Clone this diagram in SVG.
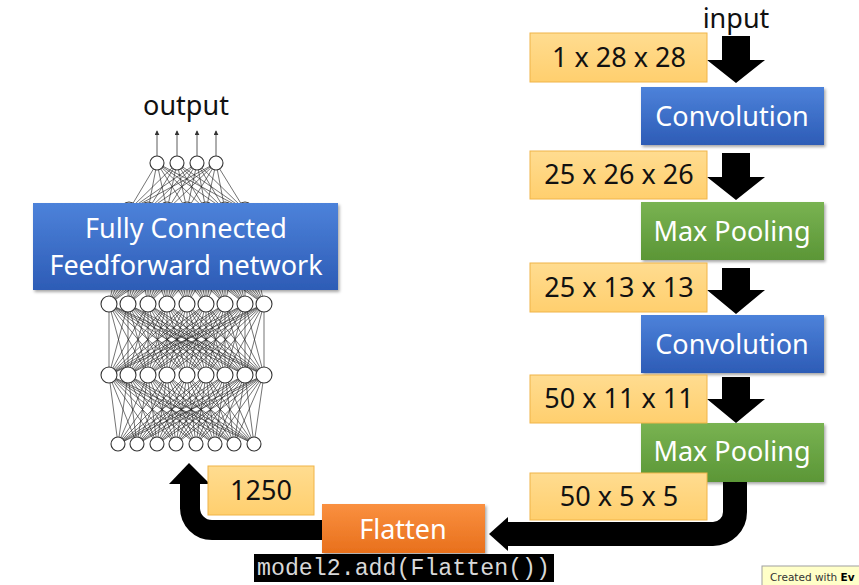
<svg xmlns="http://www.w3.org/2000/svg" width="859" height="585" viewBox="0 0 859 585">
<defs>
<linearGradient id="gBlue" x1="0" y1="0" x2="0" y2="1"><stop offset="0" stop-color="#4d82da"/><stop offset="1" stop-color="#2d5cb6"/></linearGradient>
<linearGradient id="gGreen" x1="0" y1="0" x2="0" y2="1"><stop offset="0" stop-color="#79b352"/><stop offset="1" stop-color="#5b9636"/></linearGradient>
<linearGradient id="gOrange" x1="0" y1="0" x2="0" y2="1"><stop offset="0" stop-color="#fa9040"/><stop offset="1" stop-color="#e8701c"/></linearGradient>
<linearGradient id="gYellow" x1="0" y1="0" x2="0" y2="1"><stop offset="0" stop-color="#ffdc90"/><stop offset="1" stop-color="#ffcf6e"/></linearGradient>
<filter id="sh" x="-10%" y="-10%" width="120%" height="130%"><feDropShadow dx="1.5" dy="2" stdDeviation="1.5" flood-color="#000" flood-opacity="0.35"/></filter>
<marker id="mUp" viewBox="0 0 6 6" refX="5" refY="3" markerWidth="5" markerHeight="5" markerUnits="userSpaceOnUse" orient="auto"><path d="M0 0L6 3L0 6z" fill="#333"/></marker>
<style>
.t{font-family:"Noto Sans","Open Sans",sans-serif;font-size:27px;text-anchor:middle}
.w{fill:#fff}
.k{fill:#111}
.lab{fill:url(#gYellow);stroke:#f0b448;stroke-width:1}
.blue{fill:url(#gBlue);filter:url(#sh)}
.green{fill:url(#gGreen);filter:url(#sh)}
.orange{fill:url(#gOrange);filter:url(#sh)}
.net{fill:none;stroke:#222;stroke-width:0.7;stroke-opacity:0.9}
.nd{fill:#fff;stroke:#333;stroke-width:1.1}
.blk{fill:#000}
</style>
</defs>
<rect width="859" height="585" fill="#fff"/>

<g id="network">
<path class="net" d="M157 163L129 210M157 163L148 210M157 163L167 210M157 163L187 210M157 163L206 210M157 163L225 210M157 163L245 210M177 163L129 210M177 163L148 210M177 163L167 210M177 163L187 210M177 163L206 210M177 163L225 210M177 163L245 210M197 163L129 210M197 163L148 210M197 163L167 210M197 163L187 210M197 163L206 210M197 163L225 210M197 163L245 210M216 163L129 210M216 163L148 210M216 163L167 210M216 163L187 210M216 163L206 210M216 163L225 210M216 163L245 210"/>
<path class="net" d="M129 210L109 304M129 210L128 304M129 210L148 304M129 210L167 304M129 210L187 304M129 210L206 304M129 210L225 304M129 210L245 304M129 210L264 304M148 210L109 304M148 210L128 304M148 210L148 304M148 210L167 304M148 210L187 304M148 210L206 304M148 210L225 304M148 210L245 304M148 210L264 304M167 210L109 304M167 210L128 304M167 210L148 304M167 210L167 304M167 210L187 304M167 210L206 304M167 210L225 304M167 210L245 304M167 210L264 304M187 210L109 304M187 210L128 304M187 210L148 304M187 210L167 304M187 210L187 304M187 210L206 304M187 210L225 304M187 210L245 304M187 210L264 304M206 210L109 304M206 210L128 304M206 210L148 304M206 210L167 304M206 210L187 304M206 210L206 304M206 210L225 304M206 210L245 304M206 210L264 304M225 210L109 304M225 210L128 304M225 210L148 304M225 210L167 304M225 210L187 304M225 210L206 304M225 210L225 304M225 210L245 304M225 210L264 304M245 210L109 304M245 210L128 304M245 210L148 304M245 210L167 304M245 210L187 304M245 210L206 304M245 210L225 304M245 210L245 304M245 210L264 304"/>
<path class="net" d="M109 304L109 375M109 304L128 375M109 304L148 375M109 304L167 375M109 304L187 375M109 304L206 375M109 304L225 375M109 304L245 375M109 304L264 375M128 304L109 375M128 304L128 375M128 304L148 375M128 304L167 375M128 304L187 375M128 304L206 375M128 304L225 375M128 304L245 375M128 304L264 375M148 304L109 375M148 304L128 375M148 304L148 375M148 304L167 375M148 304L187 375M148 304L206 375M148 304L225 375M148 304L245 375M148 304L264 375M167 304L109 375M167 304L128 375M167 304L148 375M167 304L167 375M167 304L187 375M167 304L206 375M167 304L225 375M167 304L245 375M167 304L264 375M187 304L109 375M187 304L128 375M187 304L148 375M187 304L167 375M187 304L187 375M187 304L206 375M187 304L225 375M187 304L245 375M187 304L264 375M206 304L109 375M206 304L128 375M206 304L148 375M206 304L167 375M206 304L187 375M206 304L206 375M206 304L225 375M206 304L245 375M206 304L264 375M225 304L109 375M225 304L128 375M225 304L148 375M225 304L167 375M225 304L187 375M225 304L206 375M225 304L225 375M225 304L245 375M225 304L264 375M245 304L109 375M245 304L128 375M245 304L148 375M245 304L167 375M245 304L187 375M245 304L206 375M245 304L225 375M245 304L245 375M245 304L264 375M264 304L109 375M264 304L128 375M264 304L148 375M264 304L167 375M264 304L187 375M264 304L206 375M264 304L225 375M264 304L245 375M264 304L264 375"/>
<path class="net" d="M109 375L118 444M109 375L137 444M109 375L157 444M109 375L176 444M109 375L196 444M109 375L215 444M109 375L234 444M109 375L254 444M128 375L118 444M128 375L137 444M128 375L157 444M128 375L176 444M128 375L196 444M128 375L215 444M128 375L234 444M128 375L254 444M148 375L118 444M148 375L137 444M148 375L157 444M148 375L176 444M148 375L196 444M148 375L215 444M148 375L234 444M148 375L254 444M167 375L118 444M167 375L137 444M167 375L157 444M167 375L176 444M167 375L196 444M167 375L215 444M167 375L234 444M167 375L254 444M187 375L118 444M187 375L137 444M187 375L157 444M187 375L176 444M187 375L196 444M187 375L215 444M187 375L234 444M187 375L254 444M206 375L118 444M206 375L137 444M206 375L157 444M206 375L176 444M206 375L196 444M206 375L215 444M206 375L234 444M206 375L254 444M225 375L118 444M225 375L137 444M225 375L157 444M225 375L176 444M225 375L196 444M225 375L215 444M225 375L234 444M225 375L254 444M245 375L118 444M245 375L137 444M245 375L157 444M245 375L176 444M245 375L196 444M245 375L215 444M245 375L234 444M245 375L254 444M264 375L118 444M264 375L137 444M264 375L157 444M264 375L176 444M264 375L196 444M264 375L215 444M264 375L234 444M264 375L254 444"/>
<g stroke="#333" stroke-width="0.8" marker-end="url(#mUp)">
<line x1="157" y1="156" x2="157" y2="131"/><line x1="177" y1="156" x2="177" y2="131"/><line x1="197" y1="156" x2="197" y2="131"/><line x1="216" y1="156" x2="216" y2="131"/>
</g>
<g class="nd">
<circle cx="157" cy="163" r="7"/><circle cx="177" cy="163" r="7"/><circle cx="197" cy="163" r="7"/><circle cx="216" cy="163" r="7"/>
<circle cx="129" cy="210" r="8"/><circle cx="148" cy="210" r="8"/><circle cx="167" cy="210" r="8"/><circle cx="187" cy="210" r="8"/><circle cx="206" cy="210" r="8"/><circle cx="225" cy="210" r="8"/><circle cx="245" cy="210" r="8"/>
<circle cx="109" cy="304" r="8"/><circle cx="128" cy="304" r="8"/><circle cx="148" cy="304" r="8"/><circle cx="167" cy="304" r="8"/><circle cx="187" cy="304" r="8"/><circle cx="206" cy="304" r="8"/><circle cx="225" cy="304" r="8"/><circle cx="245" cy="304" r="8"/><circle cx="264" cy="304" r="8"/>
<circle cx="109" cy="375" r="8"/><circle cx="128" cy="375" r="8"/><circle cx="148" cy="375" r="8"/><circle cx="167" cy="375" r="8"/><circle cx="187" cy="375" r="8"/><circle cx="206" cy="375" r="8"/><circle cx="225" cy="375" r="8"/><circle cx="245" cy="375" r="8"/><circle cx="264" cy="375" r="8"/>
<circle cx="118" cy="444" r="7"/><circle cx="137" cy="444" r="7"/><circle cx="157" cy="444" r="7"/><circle cx="176" cy="444" r="7"/><circle cx="196" cy="444" r="7"/><circle cx="215" cy="444" r="7"/><circle cx="234" cy="444" r="7"/><circle cx="254" cy="444" r="7"/>
</g>
<text class="t k" x="186" y="115">output</text>
</g>

<g id="fc">
<rect class="blue" x="33" y="203" width="305" height="87"/>
<text class="t w" x="186" y="238">Fully Connected</text>
<text class="t w" x="186" y="275">Feedforward network</text>
</g>

<g id="connectors">
<polygon class="blk" points="722,36 750,36 750,60 765,60 736,83 707,60 722,60"/>
<polygon class="blk" points="722,153 750,153 750,177 765,177 736,200 707,177 722,177"/>
<polygon class="blk" points="722,268 750,268 750,290 765,290 736,314 707,290 722,290"/>
<polygon class="blk" points="722,377 750,377 750,399 765,399 736,423 707,399 722,399"/>
<path d="M735 480V512A22 22 0 0 1 713 534H505" fill="none" stroke="#000" stroke-width="24"/>
<polygon class="blk" points="508,517 508,551 489,534"/>
<path d="M330 530H212A22 22 0 0 1 190 508V482" fill="none" stroke="#000" stroke-width="20"/>
<polygon class="blk" points="169,484 210,484 189,463"/>
</g>

<g id="input-label"><text class="t k" x="736" y="28" font-size="26">input</text></g>

<g id="conv1"><rect class="blue" x="641" y="87" width="183" height="58"/><text class="t w" x="732" y="126">Convolution</text></g>
<g id="pool1"><rect class="green" x="641" y="202" width="183" height="58"/><text class="t w" x="732" y="241">Max Pooling</text></g>
<g id="conv2"><rect class="blue" x="641" y="315" width="183" height="58"/><text class="t w" x="732" y="354">Convolution</text></g>
<g id="pool2"><rect class="green" x="641" y="423" width="183" height="59"/><text class="t w" x="732" y="461">Max Pooling</text></g>

<g id="dim1"><rect class="lab" x="530" y="33" width="177" height="49"/><text class="t k" x="619" y="67">1 x 28 x 28</text></g>
<g id="dim2"><rect class="lab" x="530" y="151" width="177" height="48"/><text class="t k" x="619" y="184">25 x 26 x 26</text></g>
<g id="dim3"><rect class="lab" x="530" y="263" width="177" height="49"/><text class="t k" x="619" y="297">25 x 13 x 13</text></g>
<g id="dim4"><rect class="lab" x="530" y="375" width="177" height="48"/><text class="t k" x="619" y="408">50 x 11 x 11</text></g>
<g id="dim5"><rect class="lab" x="530" y="473" width="177" height="47"/><text class="t k" x="619" y="506">50 x 5 x 5</text></g>
<g id="dim6"><rect class="lab" x="208" y="466" width="106" height="49"/><text class="t k" x="261" y="500">1250</text></g>

<g id="flatten"><rect class="orange" x="322" y="504" width="163" height="49"/><text class="t w" x="403" y="539">Flatten</text></g>

<g id="code">
<rect x="254" y="554" width="300" height="28" fill="#000"/>
<text x="257" y="575" font-family="'Liberation Mono','Courier New',monospace" font-size="23" fill="#d8d8d8" textLength="293" lengthAdjust="spacingAndGlyphs">model2.add(Flatten())</text>
</g>

<g id="watermark">
<rect x="762" y="566" width="100" height="20" fill="#ffffc8" stroke="#a0a0a0" stroke-width="1"/>
<text x="770" y="581" font-family="'DejaVu Sans',sans-serif" font-size="10.5" fill="#333">Created with <tspan font-weight="bold" fill="#000">Ev</tspan></text>
</g>
</svg>
